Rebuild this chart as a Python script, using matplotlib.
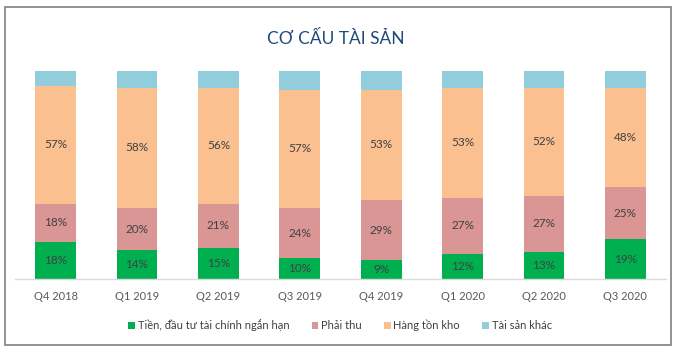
import matplotlib
matplotlib.use("Agg")
import matplotlib.pyplot as plt
from matplotlib.patches import Rectangle
import numpy as np

plt.rcParams['font.family'] = ['Lato', 'Noto Sans', 'DejaVu Sans']

categories = ["Q4 2018", "Q1 2019", "Q2 2019", "Q3 2019", "Q4 2019", "Q1 2020", "Q2 2020", "Q3 2020"]
tien = [18, 14, 15, 10, 9, 12, 13, 19]
phai_thu = [18, 20, 21, 24, 29, 27, 27, 25]
hang_ton_kho = [57, 58, 56, 57, 53, 53, 52, 48]
tai_san_khac = [7, 8, 8, 9, 9, 8, 8, 8]
series_names = ["Tiền, đầu tư tài chính ngắn hạn", "Phải thu", "Hàng tồn kho", "Tài sản khác"]
colors = ["#00B050", "#DA9694", "#FAC090", "#92CDDC"]
title = "CƠ CẤU TÀI SẢN"

W, H = 676, 356
fig = plt.figure(figsize=(W / 100, H / 100), dpi=100)
fig.patch.set_facecolor("white")

# outer border
fig.patches.append(Rectangle((5 / W, 1 - 345 / H), (671 - 5) / W, (345 - 7) / H,
                             transform=fig.transFigure, fill=False,
                             edgecolor="#7F7F7F", linewidth=1.2))

ax = fig.add_axes([15 / W, 1 - 279 / H, (666 - 15) / W, (279 - 71) / H])
x = np.arange(len(categories))
data = [tien, phai_thu, hang_ton_kho, tai_san_khac]
bottom = np.zeros(len(categories))
bars = []
for vals, c, name in zip(data, colors, series_names):
    vals = np.array(vals, dtype=float)
    b = ax.bar(x, vals, width=0.5, bottom=bottom, color=c, label=name)
    bars.append(b)
    bottom += vals

totals = bottom
ax.set_ylim(0, totals.max())
ax.set_xlim(-0.5, len(categories) - 0.5)

# data labels for first three series
for i in range(3):
    b = bars[i]
    for rect, v in zip(b, data[i]):
        ax.text(rect.get_x() + rect.get_width() / 2, rect.get_y() + rect.get_height() / 2,
                f"{v}%", ha="center", va="center", fontsize=8.5, color="#404040")

ax.set_xticks(x)
ax.set_xticklabels(categories, fontsize=8, color="#595959")
ax.tick_params(axis="x", length=0, pad=9)
ax.set_yticks([])
for s in ["top", "right", "left"]:
    ax.spines[s].set_visible(False)
ax.spines["bottom"].set_color("#D9D9D9")
ax.spines["bottom"].set_linewidth(1.0)

fig.text(336 / W, 1 - 38 / H, title, ha="center", va="center", fontsize=12.5, color="#1F497D")

leg = fig.legend(handles=bars, labels=series_names, loc="center",
                 bbox_to_anchor=(340 / W, 1 - 325 / H), ncol=4, frameon=False,
                 fontsize=8, handlelength=0.6, handleheight=0.6, handletextpad=0.25,
                 columnspacing=2.0, labelcolor="#404040")

fig.savefig("out.png", dpi=100)
